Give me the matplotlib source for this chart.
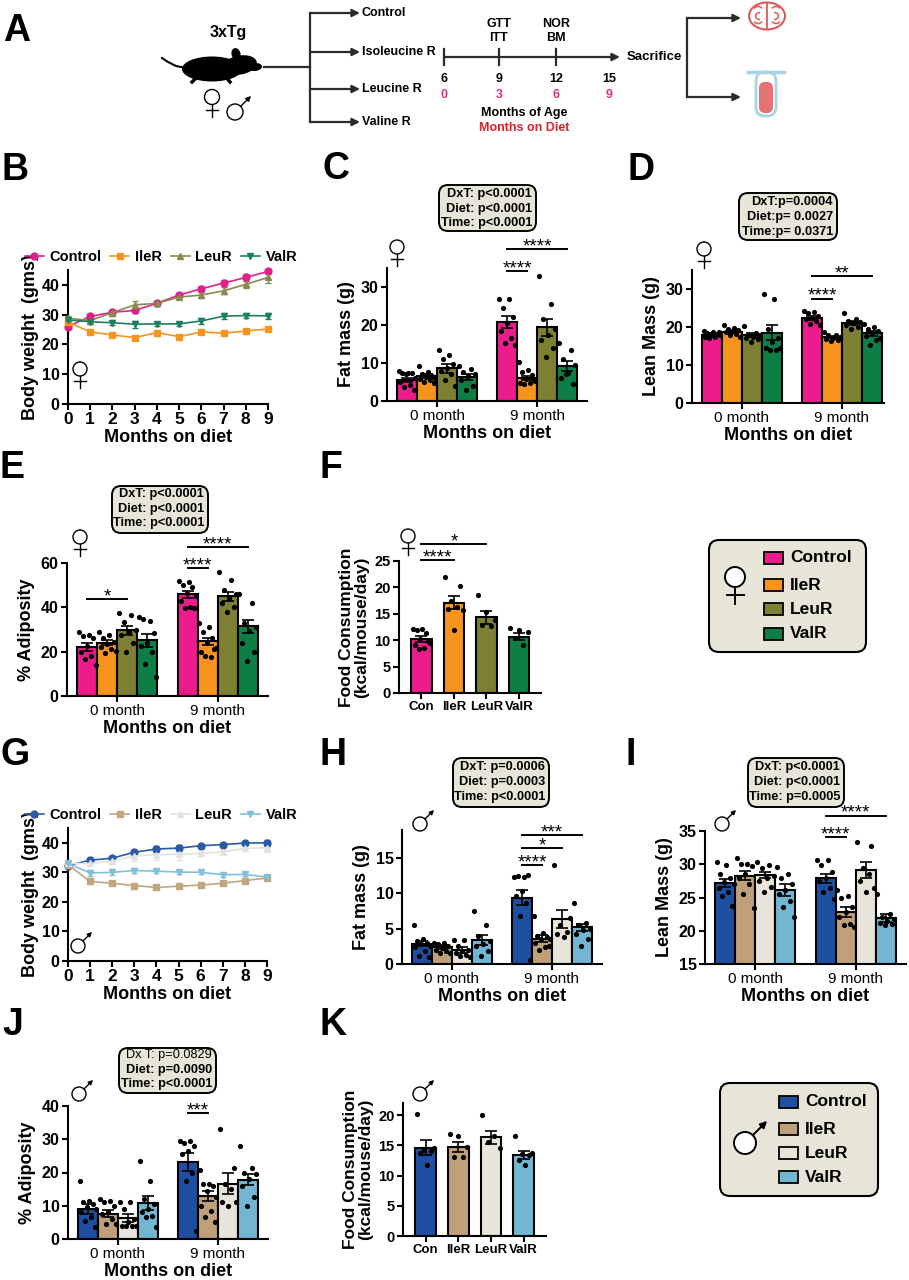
import numpy as np
import matplotlib
matplotlib.use('Agg')
import matplotlib.pyplot as plt
from matplotlib.patches import Circle, Ellipse, FancyBboxPatch, Rectangle, Arc
from matplotlib.lines import Line2D

plt.rcParams['font.family'] = ['Liberation Sans', 'DejaVu Sans']

W, H = 909, 1280

# ── Data ─────────────────────────────────────────────────────
groups       = ['Control', 'IleR', 'LeuR', 'ValR']
short_groups = ['Con', 'IleR', 'LeuR', 'ValR']
timepoints   = ['0 month', '9 month']
months       = np.arange(10)

fem_colors       = ['#EC1C8C', '#F7941D', '#7D7F32', '#0E7E47']
male_colors      = ['#1F4FA0', '#BFA07A', '#E8E4DA', '#72B6D3']
fem_line_colors  = ['#E0218A', '#F7941D', '#8A8A4C', '#1E8060']
male_line_colors = ['#2B5AA5', '#C1A57E', '#E3E3DE', '#7FC1D8']
line_markers     = ['o', 's', '^', 'v']

# B - female body weight
bw_f_control = [26.0, 29.4, 30.8, 31.4, 33.8, 36.6, 38.7, 40.6, 42.5, 44.5]
bw_f_iler    = [27.5, 24.2, 23.2, 22.3, 24.0, 22.6, 24.2, 23.8, 24.5, 25.2]
bw_f_leur    = [28.8, 28.0, 30.7, 33.3, 33.8, 35.9, 36.6, 38.0, 40.2, 42.5]
bw_f_valr    = [28.2, 27.6, 27.3, 26.8, 26.9, 26.9, 27.9, 29.5, 29.7, 29.6]
bw_f_control_sem = [0.8, 0.7, 0.8, 1.0, 0.8, 0.8, 1.0, 1.2, 1.3, 0.9]
bw_f_iler_sem    = [0.6, 0.5, 0.5, 0.5, 0.6, 0.5, 0.5, 0.5, 0.5, 0.5]
bw_f_leur_sem    = [0.9, 0.8, 1.0, 1.3, 0.8, 0.8, 0.9, 1.2, 1.4, 2.0]
bw_f_valr_sem    = [0.6, 0.7, 0.9, 1.2, 0.8, 0.8, 0.9, 1.0, 0.7, 0.9]

# G - male body weight
bw_m_control = [32.3, 34.1, 34.8, 36.8, 37.9, 38.2, 39.0, 39.4, 39.9, 40.0]
bw_m_iler    = [32.6, 26.9, 26.3, 25.5, 24.9, 25.3, 25.7, 26.3, 27.2, 28.1]
bw_m_leur    = [33.0, 33.0, 33.8, 35.5, 36.0, 36.1, 36.4, 36.9, 38.1, 38.3]
bw_m_valr    = [33.0, 29.8, 30.0, 30.6, 30.4, 30.1, 30.0, 29.2, 29.3, 28.4]
bw_m_control_sem = [0.6, 0.6, 0.7, 0.8, 0.9, 0.9, 0.6, 0.6, 0.8, 1.1]
bw_m_iler_sem    = [0.5, 0.5, 0.5, 0.5, 0.5, 0.5, 0.5, 0.5, 0.5, 0.5]
bw_m_leur_sem    = [0.8, 0.8, 1.0, 1.5, 1.7, 1.8, 0.8, 0.6, 0.8, 1.5]
bw_m_valr_sem    = [0.6, 1.0, 1.0, 0.7, 0.7, 0.7, 0.7, 0.7, 0.7, 0.7]

# C - female fat mass
fat_f_mean_0 = [5.5, 6.5, 8.6, 6.4]
fat_f_mean_9 = [20.7, 6.1, 19.4, 9.2]
fat_f_sem_0  = [0.6, 0.5, 1.1, 0.8]
fat_f_sem_9  = [1.6, 0.6, 2.2, 1.3]
fat_f_pts_0 = [[8.0, 7.5, 7.4, 7.4, 7.2, 6.0, 4.9, 4.2, 3.6, 2.8],
               [9.2, 7.7, 7.0, 6.5, 6.4, 6.0, 5.9, 5.5, 5.0, 4.8],
               [13.5, 12.0, 11.0, 9.8, 8.8, 8.0, 7.0, 5.5, 4.0],
               [9.3, 8.5, 7.6, 7.0, 6.5, 5.5, 4.0, 3.0]]
fat_f_pts_9 = [[26.9, 26.9, 24.4, 22.2, 20.5, 18.5, 16.5, 15.2, 14.8],
               [10.2, 8.2, 7.6, 6.8, 5.8, 5.3, 4.8, 4.8, 4.6, 5.5],
               [33.0, 25.5, 21.5, 19.0, 17.5, 16.0, 14.0, 11.5],
               [15.3, 13.5, 11.0, 9.5, 7.5, 6.0, 4.5, 7.0]]

# D - female lean mass
lean_f_mean_0 = [18.0, 18.7, 17.9, 18.5]
lean_f_mean_9 = [22.3, 17.4, 21.1, 18.3]
lean_f_sem_0  = [0.3, 0.3, 0.4, 2.0]
lean_f_sem_9  = [0.5, 0.3, 0.5, 0.6]
lean_f_pts_0 = [[19.0, 18.6, 18.4, 18.2, 18.0, 17.8, 17.5, 17.3, 17.0, 18.8],
                [20.4, 19.8, 19.5, 19.2, 19.0, 18.6, 18.2, 17.8, 17.5],
                [20.2, 18.5, 18.0, 17.8, 17.5, 17.2, 16.8, 16.0],
                [28.7, 27.4, 19.5, 17.2, 16.0, 14.5, 14.0, 14.0, 14.4]]
lean_f_pts_9 = [[24.3, 24.0, 23.8, 23.0, 22.5, 22.0, 21.5, 20.8, 20.5],
                [18.7, 18.0, 17.8, 17.5, 17.2, 16.8, 16.5, 16.3],
                [23.6, 22.0, 21.5, 21.2, 21.0, 20.5, 20.0, 19.5],
                [20.7, 20.0, 19.5, 19.0, 18.5, 17.6, 16.5, 15.3, 17.0]]

# E - female adiposity
adi_f_mean_0 = [22.1, 24.1, 29.6, 25.1]
adi_f_mean_9 = [45.9, 24.7, 45.0, 31.4]
adi_f_sem_0  = [1.8, 1.2, 2.0, 3.0]
adi_f_sem_9  = [1.5, 1.5, 2.0, 3.0]
adi_f_pts_0 = [[29.0, 27.3, 27.0, 26.0, 22.5, 20.0, 18.0, 16.5, 14.0],
               [29.0, 27.3, 26.0, 24.5, 23.5, 22.0, 21.0, 19.5, 20.5],
               [37.5, 36.5, 33.5, 30.0, 29.0, 27.5, 24.0, 20.0],
               [35.5, 34.0, 34.8, 28.5, 24.0, 22.5, 20.0, 14.5, 8.5]]
adi_f_pts_9 = [[52.0, 51.5, 50.0, 49.0, 46.5, 45.0, 43.0, 40.0, 39.8, 39.5],
               [32.8, 31.0, 29.0, 26.0, 24.5, 21.5, 20.0, 17.5, 18.0, 21.0],
               [56.0, 52.5, 48.0, 46.0, 44.0, 42.0, 40.0, 38.0],
               [46.0, 42.0, 33.0, 31.0, 29.5, 24.0, 20.0, 16.0]]

# F - female food consumption
food_f_mean = [10.2, 17.1, 14.3, 10.7]
food_f_sem  = [0.6, 1.2, 1.2, 0.6]
food_f_pts  = [[12.2, 12.1, 12.0, 11.3, 10.3, 9.5, 9.0, 8.5, 8.4, 9.8],
               [22.0, 20.3, 17.5, 16.2, 16.0, 15.8, 12.0],
               [18.6, 15.3, 13.9, 12.8, 12.6],
               [12.3, 12.0, 11.5, 10.5, 9.0]]

# H - male fat mass
fat_m_mean_0 = [2.9, 2.4, 2.0, 3.4]
fat_m_mean_9 = [9.4, 3.6, 6.4, 5.2]
fat_m_sem_0  = [0.4, 0.3, 0.4, 0.7]
fat_m_sem_9  = [1.1, 0.5, 1.3, 0.5]
fat_m_pts_0 = [[5.6, 3.5, 3.2, 3.0, 2.8, 2.6, 2.4, 1.8, 1.2, 1.0],
               [3.0, 3.0, 2.9, 2.6, 2.3, 2.0, 1.8, 1.6, 1.5],
               [3.4, 3.4, 2.6, 2.0, 1.8, 1.5, 1.3, 1.2, 1.0],
               [7.5, 5.5, 4.0, 3.2, 2.8, 2.5, 1.8, 1.2]]
fat_m_pts_9 = [[12.4, 12.3, 12.5, 12.6, 10.4, 9.6, 8.7, 6.8, 0.6],
               [6.8, 4.4, 4.0, 3.8, 3.6, 3.5, 3.0, 2.4, 2.0, 2.5],
               [14.0, 6.5, 5.5, 4.5, 4.2, 3.8],
               [8.7, 5.8, 5.5, 5.0, 4.8, 4.2, 3.5, 2.5]]

# I - male lean mass
lean_m_mean_0 = [27.2, 28.3, 28.4, 26.1]
lean_m_mean_9 = [27.9, 22.8, 29.1, 21.9]
lean_m_sem_0  = [0.6, 0.7, 0.5, 0.9]
lean_m_sem_9  = [0.7, 0.7, 1.2, 0.6]
lean_m_pts_0 = [[30.3, 29.9, 28.5, 28.0, 27.3, 27.0, 26.5, 25.8, 25.2, 23.7],
                [30.9, 30.1, 30.0, 29.8, 28.6, 28.0, 27.0, 25.5, 23.4],
                [30.3, 29.9, 29.5, 28.3, 28.0, 27.5, 26.6, 25.8],
                [29.6, 28.6, 28.0, 27.0, 26.2, 25.5, 24.5, 23.5, 22.1]]
lean_m_pts_9 = [[30.7, 30.7, 29.9, 28.9, 28.0, 27.5, 26.5, 25.9, 24.7],
                [26.1, 25.3, 25.0, 23.5, 22.8, 22.0, 21.0, 20.8, 20.6],
                [33.4, 32.8, 29.5, 28.5, 27.5, 26.5, 25.8],
                [25.5, 22.5, 22.0, 21.8, 21.5, 21.2, 21.0, 20.8]]

# J - male adiposity
adi_m_mean_0 = [9.0, 7.6, 6.3, 10.8]
adi_m_mean_9 = [23.1, 13.0, 16.6, 17.8]
adi_m_sem_0  = [1.5, 1.0, 1.3, 2.0]
adi_m_sem_9  = [2.7, 1.5, 3.2, 1.6]
adi_m_pts_0 = [[17.5, 11.5, 11.0, 10.5, 9.5, 9.0, 8.0, 6.5, 5.5, 3.5],
               [12.0, 11.5, 11.0, 10.0, 8.0, 7.5, 6.0, 4.5, 4.5],
               [11.0, 11.0, 9.0, 6.0, 5.0, 4.0, 3.8, 4.0, 4.0],
               [23.5, 17.5, 12.0, 10.5, 9.0, 8.0, 7.0, 6.5, 3.5]]
adi_m_pts_9 = [[29.5, 29.5, 29.0, 28.0, 26.5, 25.5, 20.0, 17.5, 2.5],
               [20.7, 16.5, 16.5, 16.0, 14.5, 12.5, 10.0, 8.5, 6.5, 5.0],
               [33.0, 21.5, 16.5, 15.0, 11.0, 11.0, 10.0],
               [28.0, 21.5, 20.0, 19.5, 18.0, 16.0, 12.5, 10.0]]

# K - male food consumption
food_m_mean = [14.6, 14.7, 16.3, 13.4]
food_m_sem  = [1.2, 0.8, 1.1, 0.6]
food_m_pts  = [[20.2, 14.5, 14.3, 14.0, 13.8, 11.7],
               [16.9, 16.6, 14.8, 13.0, 13.0],
               [20.0, 16.6, 15.5, 14.5],
               [16.5, 13.8, 13.6, 13.4, 12.6, 11.7]]

# ── Figure ───────────────────────────────────────────────────
fig = plt.figure(figsize=(W / 100, H / 100), dpi=100)


def px_axes(l, t, r, b):
    return fig.add_axes([l / W, 1 - b / H, (r - l) / W, (b - t) / H])


def style_axes(ax, ysize=11.5, xsize=11, xbold=False):
    for s in ['top', 'right']:
        ax.spines[s].set_visible(False)
    for s in ['left', 'bottom']:
        ax.spines[s].set_linewidth(1.5)
    ax.tick_params(width=1.5, length=4, pad=2)
    ax.tick_params(axis='y', labelsize=ysize)
    ax.tick_params(axis='x', labelsize=xsize)
    for lbl in ax.get_yticklabels():
        lbl.set_fontweight('bold')
    if xbold:
        for lbl in ax.get_xticklabels():
            lbl.set_fontweight('bold')


def spread(n, half=0.38):
    if n == 1:
        return np.zeros(1)
    base = np.linspace(-half, half, n)
    order = np.argsort((np.arange(n) * 0.618) % 1)
    return base[order]


def draw_bar(ax, x, mean, sem, pts, color, width):
    ax.bar(x, mean, width=width, color=color, edgecolor='black', linewidth=1.5, zorder=2)
    vals = np.asarray(pts)
    ax.scatter(x + spread(len(vals), 0.42 * width), vals, s=14, color='black',
               linewidths=0, zorder=3, clip_on=False)
    ax.errorbar(x, mean, yerr=sem, color='black', capsize=4, elinewidth=1.2,
                capthick=1.2, zorder=4)


def grouped_bars(ax, m0, m9, s0, s9, p0, p9, colors):
    for g, (means, sems, pts) in enumerate([(m0, s0, p0), (m9, s9, p9)]):
        for i in range(4):
            draw_bar(ax, g * 5 + (i - 1.5), means[i], sems[i], pts[i], colors[i], 1.0)
    ax.set_xticks([0, 5])
    ax.set_xticklabels(timepoints)
    ax.set_xlim(-2.5, 7.5)


def single_bars(ax, means, sems, pts, colors):
    for i in range(4):
        draw_bar(ax, i, means[i], sems[i], pts[i], colors[i], 0.63)
    ax.set_xticks(range(4))
    ax.set_xticklabels(short_groups)
    ax.set_xlim(-0.69, 3.68)


def sig(ax, x0, x1, y, stars):
    ax.plot([x0, x1], [y, y], color='black', lw=1.4, clip_on=False)
    ax.annotate(stars, xy=((x0 + x1) / 2, y), xytext=(0, -1.5), textcoords='offset points',
                ha='center', va='baseline', fontsize=13.5, annotation_clip=False)


def line_panel(ax, series, sems, colors, title_y):
    handles = []
    for vals, err, c, m in zip(series, sems, colors, line_markers):
        eb = ax.errorbar(months, vals, yerr=err, color=c, marker=m, ms=5, lw=1.2,
                         capsize=2.5, elinewidth=1, zorder=3)
        data_line, caps, bars = eb.lines
        data_line.set_clip_on(False)
        for art in list(caps) + list(bars):
            art.set_clip_on(False)
        handles.append(Line2D([], [], color=c, marker=m, ms=5, lw=1.2))
    ax.set_xlim(0, 9)
    ax.set_ylim(0, 45)
    ax.set_xticks(months)
    ax.set_yticks([0, 10, 20, 30, 40])
    ax.set_xlabel('Months on diet', fontsize=13, fontweight='bold', labelpad=1)
    ax.set_ylabel('Body weight  (gms)', fontsize=13, fontweight='bold', labelpad=2)
    style_axes(ax, ysize=11.5, xsize=12.5, xbold=True)
    ax.legend(handles, groups, loc='center', bbox_to_anchor=(161 / W, 1 - title_y / H),
              bbox_transform=fig.transFigure, ncol=4, frameon=False,
              prop={'weight': 'bold', 'size': 10.5}, handlelength=1.3,
              handletextpad=0.4, columnspacing=0.6, borderpad=0)


# ── B ──
axB = px_axes(68, 270, 268, 404)
line_panel(axB, [bw_f_control, bw_f_iler, bw_f_leur, bw_f_valr],
           [bw_f_control_sem, bw_f_iler_sem, bw_f_leur_sem, bw_f_valr_sem],
           fem_line_colors, 257)

# ── G ──
axG = px_axes(68, 828, 267, 961)
line_panel(axG, [bw_m_control, bw_m_iler, bw_m_leur, bw_m_valr],
           [bw_m_control_sem, bw_m_iler_sem, bw_m_leur_sem, bw_m_valr_sem],
           male_line_colors, 815)

# ── C ──
axC = px_axes(387, 268, 587, 401)
grouped_bars(axC, fat_f_mean_0, fat_f_mean_9, fat_f_sem_0, fat_f_sem_9,
             fat_f_pts_0, fat_f_pts_9, fem_colors)
axC.set_ylim(0, 35)
axC.set_yticks([0, 10, 20, 30])
axC.set_ylabel('Fat mass (g)', fontsize=13, fontweight='bold')
axC.set_xlabel('Months on diet', fontsize=13, fontweight='bold', labelpad=1)
style_axes(axC)
sig(axC, 3.5, 4.5, 34.2, '****')
sig(axC, 3.5, 6.5, 40.0, '****')

# ── D ──
axD = px_axes(692, 270, 884, 403)
grouped_bars(axD, lean_f_mean_0, lean_f_mean_9, lean_f_sem_0, lean_f_sem_9,
             lean_f_pts_0, lean_f_pts_9, fem_colors)
axD.set_xlim(-2.5, 7.1)
axD.set_ylim(0, 35)
axD.set_yticks([0, 10, 20, 30])
axD.set_ylabel('Lean Mass (g)', fontsize=13, fontweight='bold')
axD.set_xlabel('Months on diet', fontsize=13, fontweight='bold', labelpad=1)
style_axes(axD)
sig(axD, 3.5, 4.5, 27.4, '****')
sig(axD, 3.5, 6.5, 33.4, '**')

# ── E ──
axE = px_axes(67, 563, 268, 696)
grouped_bars(axE, adi_f_mean_0, adi_f_mean_9, adi_f_sem_0, adi_f_sem_9,
             adi_f_pts_0, adi_f_pts_9, fem_colors)
axE.set_ylim(0, 60)
axE.set_yticks([0, 20, 40, 60])
axE.set_ylabel('% Adiposity', fontsize=13, fontweight='bold')
axE.set_xlabel('Months on diet', fontsize=13, fontweight='bold', labelpad=1)
style_axes(axE)
sig(axE, -1.5, 0.5, 43.8, '*')
sig(axE, 3.5, 4.5, 57.7, '****')
sig(axE, 3.5, 6.5, 67.2, '****')

# ── F ──
axF = px_axes(399, 561, 541, 693)
single_bars(axF, food_f_mean, food_f_sem, food_f_pts, fem_colors)
axF.set_ylim(0, 25)
axF.set_yticks([0, 5, 10, 15, 20, 25])
axF.set_ylabel('Food Consumption\n(kcal/mouse/day)', fontsize=12.5, fontweight='bold',
               linespacing=1.0)
style_axes(axF, ysize=10.5, xsize=9.5, xbold=True)
sig(axF, 0, 1, 25.2, '****')
sig(axF, 0, 2, 28.2, '*')

# ── H ──
axH = px_axes(402, 830, 602, 964)
grouped_bars(axH, fat_m_mean_0, fat_m_mean_9, fat_m_sem_0, fat_m_sem_9,
             fat_m_pts_0, fat_m_pts_9, male_colors)
axH.set_ylim(0, 19)
axH.set_yticks([0, 5, 10, 15])
axH.set_ylabel('Fat mass (g)', fontsize=13, fontweight='bold')
axH.set_xlabel('Months on diet', fontsize=13, fontweight='bold', labelpad=1)
style_axes(axH)
sig(axH, 3.5, 4.5, 14.0, '****')
sig(axH, 3.5, 5.5, 16.4, '*')
sig(axH, 3.5, 6.5, 18.3, '***')

# ── I ──
axI = px_axes(705, 831, 906, 964)
grouped_bars(axI, lean_m_mean_0, lean_m_mean_9, lean_m_sem_0, lean_m_sem_9,
             lean_m_pts_0, lean_m_pts_9, male_colors)
axI.set_ylim(15, 35)
axI.set_yticks([15, 20, 25, 30, 35])
axI.set_ylabel('Lean Mass (g)', fontsize=13, fontweight='bold')
axI.set_xlabel('Months on diet', fontsize=13, fontweight='bold', labelpad=1)
style_axes(axI)
sig(axI, 3.5, 4.5, 34.1, '****')
sig(axI, 3.5, 6.5, 37.3, '****')

# ── J ──
axJ = px_axes(68, 1106, 268, 1239)
grouped_bars(axJ, adi_m_mean_0, adi_m_mean_9, adi_m_sem_0, adi_m_sem_9,
             adi_m_pts_0, adi_m_pts_9, male_colors)
axJ.set_ylim(0, 40)
axJ.set_yticks([0, 10, 20, 30, 40])
axJ.set_ylabel('% Adiposity', fontsize=13, fontweight='bold')
axJ.set_xlabel('Months on diet', fontsize=13, fontweight='bold', labelpad=1)
style_axes(axJ)
sig(axJ, 3.5, 4.5, 37.9, '***')

# ── K ──
axK = px_axes(403, 1103, 546, 1236)
single_bars(axK, food_m_mean, food_m_sem, food_m_pts, male_colors)
axK.set_ylim(0, 22)
axK.set_yticks([0, 5, 10, 15, 20])
axK.set_ylabel('Food Consumption\n(kcal/mouse/day)', fontsize=12.5, fontweight='bold',
               linespacing=1.0)
style_axes(axK, ysize=10.5, xsize=9.5, xbold=True)

# ── Overlay (pixel coordinates) ──────────────────────────────
ov = fig.add_axes([0, 0, 1, 1], zorder=10)
ov.set_xlim(0, W)
ov.set_ylim(H, 0)
ov.axis('off')
ov.patch.set_visible(False)


def female(x, y, r=7, lw=1.0):
    ov.add_patch(Circle((x, y), r, fc='white', ec='black', lw=lw))
    ov.plot([x, x], [y + r, y + 2.7 * r], color='black', lw=lw)
    ov.plot([x - 0.85 * r, x + 0.85 * r], [y + 1.75 * r, y + 1.75 * r], color='black', lw=lw)


def male(x, y, r=7, lw=1.0):
    ov.add_patch(Circle((x, y), r, fc='white', ec='black', lw=lw))
    sx, sy = x + r * 0.707, y - r * 0.707
    ov.annotate('', xy=(sx + 1.3 * r, sy - 1.3 * r), xytext=(sx, sy),
                arrowprops=dict(arrowstyle='-|>', lw=lw, color='black',
                                mutation_scale=max(6, r * 0.9), shrinkA=0, shrinkB=0))


def stat_box(x0, y0, x1, y1, lines, ys, weights=('bold', 'bold', 'bold')):
    ov.add_patch(FancyBboxPatch((x0, y0), x1 - x0, y1 - y0,
                                boxstyle='round,pad=0,rounding_size=9',
                                fc='#E6E5D7', ec='black', lw=1.4))
    for s, yy, wt in zip(lines, ys, weights):
        ov.text(x1 - 4, yy, s, ha='right', va='center', fontsize=9.2, fontweight=wt)


# panel letters
for letter, lx, ly in [('A', 3, 41), ('B', 2, 180), ('C', 322, 179), ('D', 628, 180),
                       ('E', 0, 478), ('F', 320, 478), ('G', 0, 765), ('H', 320, 765),
                       ('I', 626, 765), ('J', 2, 1035), ('K', 320, 1035)]:
    ov.text(lx, ly, letter, fontsize=27, fontweight='bold', ha='left', va='baseline')

# sex symbols
female(80, 369)
female(397, 247)
female(704, 249)
female(80, 537)
female(408, 536)
male(78, 946)
male(420, 824)
male(722, 824)
male(79, 1094)
male(420, 1094)

# stats boxes
stat_box(439, 185, 536, 231, ['DxT: p<0.0001', 'Diet: p<0.0001', 'Time: p<0.0001'], [194, 209, 223])
stat_box(739, 193, 837, 240, ['DxT:p=0.0004', 'Diet:p= 0.0027', 'Time:p= 0.0371'], [202, 217, 232])
stat_box(112, 486, 208, 533, ['DxT: p<0.0001', 'Diet: p<0.0001', 'Time: p<0.0001'], [494, 509, 523])
stat_box(453, 758, 549, 807, ['DxT: p=0.0006', 'Diet: p=0.0003', 'Time: p<0.0001'], [767, 782, 797])
stat_box(748, 758, 844, 807, ['DxT: p<0.0001', 'Diet: p<0.0001', 'Time: p=0.0005'], [767, 782, 797])
stat_box(119, 1048, 216, 1093, ['Dx T: p=0.0829', 'Diet: p=0.0090', 'Time: p<0.0001'],
         [1055, 1070, 1084], weights=('normal', 'bold', 'bold'))

# group legends (F and K)
for (bx0, by0, bx1, by1), cols, ys, sw_x, sex in [
        ((709, 540, 866, 652), fem_colors, [558, 585, 609, 634], 764, 'f'),
        ((720, 1083, 878, 1196), male_colors, [1102, 1129, 1153, 1177], 779, 'm')]:
    ov.add_patch(FancyBboxPatch((bx0, by0), bx1 - bx0, by1 - by0,
                                boxstyle='round,pad=0,rounding_size=10',
                                fc='#E6E5D7', ec='black', lw=1.5))
    for c, yy, name in zip(cols, ys, groups):
        ov.add_patch(Rectangle((sw_x, yy - 6), 19, 12, fc=c, ec='black', lw=1.3))
        ov.text(sw_x + 26, yy, name, ha='left', va='center', fontsize=12.5, fontweight='bold')
    if sex == 'f':
        female(735, 577, r=10, lw=1.4)
    else:
        male(745, 1143, r=11, lw=1.4)

# ── A : study design ──
dark = '#2b2b2b'
ov.text(228, 33, '3xTg', ha='center', va='center', fontsize=11.5, fontweight='bold')
# mouse silhouette
ov.add_patch(Ellipse((212, 69), 60, 25, fc='black'))
ov.add_patch(Ellipse((240, 65), 34, 19, angle=-10, fc='black'))
ov.add_patch(Ellipse((255, 67), 14, 8, angle=-5, fc='black'))
ov.add_patch(Ellipse((236, 54), 9, 12, angle=-15, fc='black'))
ov.plot([186, 176, 168, 162], [68, 66, 62, 58], color='black', lw=1.5)
ov.plot([196, 192], [78, 82], color='black', lw=2.5)
ov.plot([226, 230], [77, 82], color='black', lw=2.5)
female(212, 97, r=7.5)
male(235, 112, r=8)

ov.plot([264, 310], [67, 67], color=dark, lw=1.6)
ov.plot([310, 310], [13, 122], color=dark, lw=1.6)
for yy, lab in [(13, 'Control'), (52, 'Isoleucine R'), (89, 'Leucine R'), (122, 'Valine R')]:
    ov.annotate('', xy=(360, yy), xytext=(310, yy),
                arrowprops=dict(arrowstyle='-|>', lw=1.6, color=dark, mutation_scale=11,
                                shrinkA=0, shrinkB=0))
    ov.text(362, yy, lab, ha='left', va='center', fontsize=9, fontweight='bold')

ov.annotate('', xy=(620, 57), xytext=(444, 57),
            arrowprops=dict(arrowstyle='-|>', lw=1.6, color=dark, mutation_scale=11,
                            shrinkA=0, shrinkB=0))
for xx in [444, 499, 556]:
    ov.plot([xx, xx], [49, 65], color=dark, lw=1.6)
for xx, age, diet in [(444, '6', '0'), (499, '9', '3'), (556, '12', '6'), (609, '15', '9')]:
    ov.text(xx, 79, age, ha='center', va='center', fontsize=9, fontweight='bold')
    ov.text(xx, 95, diet, ha='center', va='center', fontsize=9, fontweight='bold', color='#D6338A')
for xx, top, bot in [(499, 'GTT', 'ITT'), (556, 'NOR', 'BM')]:
    ov.text(xx, 24, top, ha='center', va='center', fontsize=9, fontweight='bold')
    ov.text(xx, 38, bot, ha='center', va='center', fontsize=9, fontweight='bold')
ov.text(524, 113, 'Months of Age', ha='center', va='center', fontsize=9, fontweight='bold')
ov.text(524, 128, 'Months on Diet', ha='center', va='center', fontsize=9, fontweight='bold',
        color='#E0202B')
ov.text(654, 57, 'Sacrifice', ha='center', va='center', fontsize=9.5, fontweight='bold')

ov.plot([687, 687], [18, 97], color=dark, lw=1.6)
for yy in [18, 97]:
    ov.annotate('', xy=(741, yy), xytext=(687, yy),
                arrowprops=dict(arrowstyle='-|>', lw=1.6, color=dark, mutation_scale=11,
                                shrinkA=0, shrinkB=0))

# brain icon
brain = '#E05A5A'
ov.add_patch(Ellipse((767, 16), 36, 27, fill=False, ec=brain, lw=1.5))
ov.plot([767, 767], [4, 28], color=brain, lw=1.3)
for cx, cy, a1, a2 in [(758, 10, 200, 340), (776, 10, 200, 340), (758, 20, 20, 160),
                       (776, 20, 20, 160), (760, 16, 90, 270), (774, 16, 270, 90)]:
    ov.add_patch(Arc((cx, cy), 9, 7, theta1=a1, theta2=a2, ec=brain, lw=1.1))

# blood tube icon
tube = '#A8D4E2'
ov.plot([748, 784], [72, 72], color=tube, lw=2.5)
ov.add_patch(FancyBboxPatch((756, 72), 20, 44, boxstyle='round,pad=0,rounding_size=9',
                            fc='white', ec=tube, lw=2))
ov.add_patch(FancyBboxPatch((759, 82), 14, 31, boxstyle='round,pad=0,rounding_size=6',
                            fc='#E57373', ec='none'))

fig.savefig('out.png', dpi=100)
